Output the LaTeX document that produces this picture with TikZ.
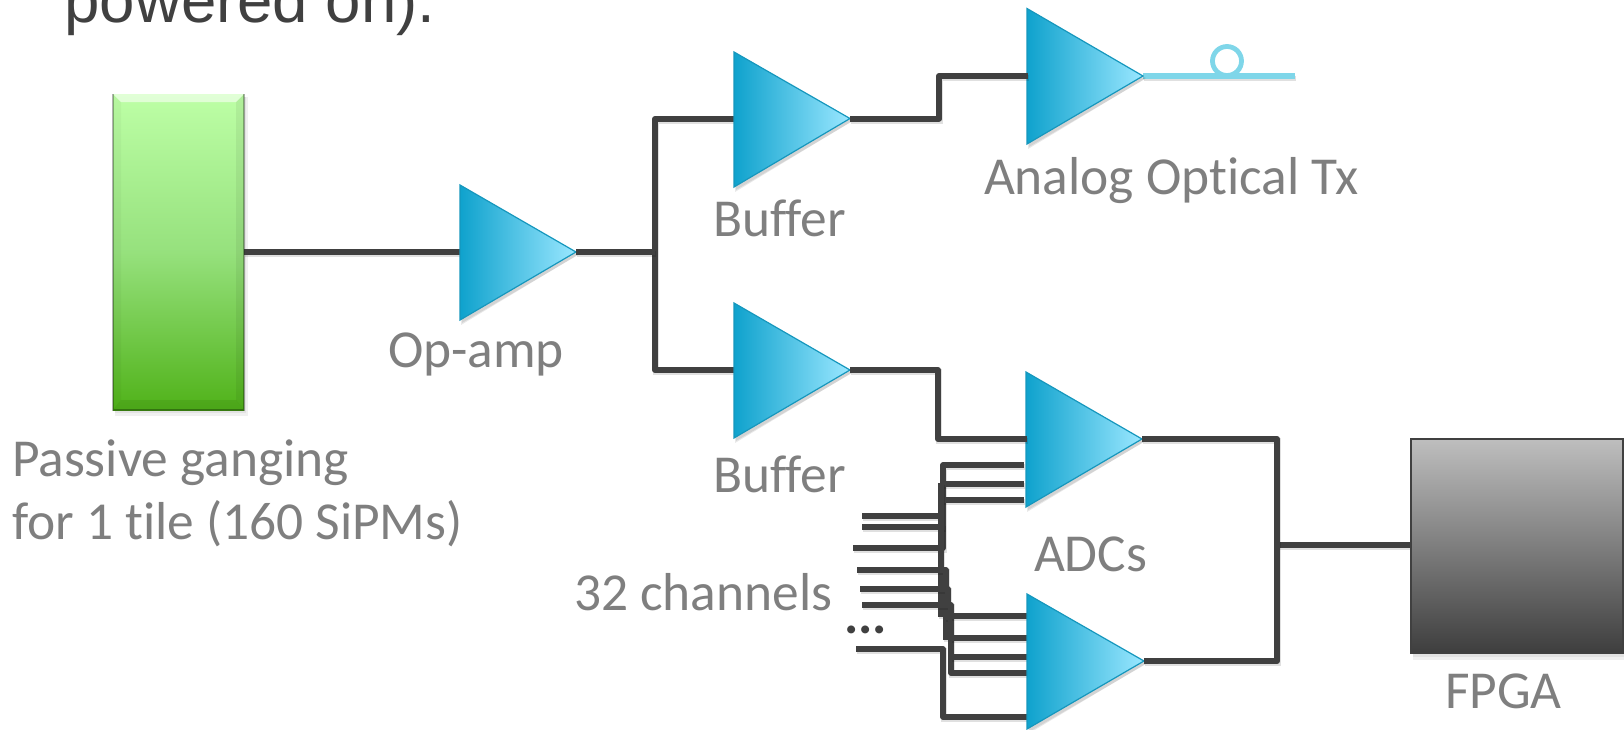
\documentclass[tikz,border=0pt]{standalone}
\usepackage{fontspec}
\setmainfont[Ligatures=NoCommon]{Carlito}
\newfontfamily\headfont{Liberation Sans}
\definecolor{wirec}{HTML}{404040}
\definecolor{labelc}{HTML}{7F7F7F}
\definecolor{ampl}{HTML}{0FA2CD}
\definecolor{ampr}{HTML}{9AE7FF}
\definecolor{ampe}{HTML}{1697BD}
\definecolor{fibre}{HTML}{7FD6E9}
\tikzset{
  wire/.style={draw=wirec,line width=3pt,line join=round,
    preaction={draw=black,opacity=.12,line width=3pt,transform canvas={shift={(.7pt,-1.2pt)}}}},
  finewire/.style={wire,line width=2.7pt},
  fibreline/.style={draw=fibre,line width=2.6pt,
    preaction={draw=black,opacity=.12,line width=2.6pt,transform canvas={shift={(.7pt,-1.1pt)}}}},
  lbl/.style={anchor=base west,inner sep=0pt,outer sep=0pt,text=labelc,font=\fontsize{26.7pt}{30pt}\selectfont},
  ampshape/.style={left color=ampl,right color=ampr,draw=ampe,line width=.6pt,line join=miter},
  ampshadow/.style={fill=black,opacity=.09}
}
% name, left x, top y, bottom y, tip x, tip y
\newcommand{\ampnode}[6]{%
  \fill[ampshadow] (#2+2,#3+3) -- (#5+2,#6+3) -- (#2+2,#4+3) -- cycle;
  \fill[ampshadow] (#2+1,#3+6) -- (#5+3,#6+2) -- (#2+1,#4+5) -- cycle;
  \shadedraw[ampshape] (#2,#3) -- (#5,#6) -- (#2,#4) -- cycle;
  \coordinate (#1tip) at (#5,#6);
}
\begin{document}
\begin{tikzpicture}[x=.5pt,y=-.5pt]
\useasboundingbox (0,0) rectangle (1624,729);
\clip (0,0) rectangle (1624,729);

% named anchor points
\coordinate (opIn) at (460,252);
\coordinate (split) at (655,252);
\coordinate (bufAIn) at (734,119);
\coordinate (bufBIn) at (734,370);
\coordinate (txIn) at (1028,76);
\coordinate (adcAIn) at (1027,439);
\coordinate (busX) at (1277,545);
\coordinate (fibreEnd) at (1295,76);

\coordinate (chA1) at (1024,465);
\coordinate (chA2) at (1024,484);
\coordinate (chA3) at (1024,500);
\coordinate (chB1) at (1028,616);
\coordinate (chB2) at (1028,638);
\coordinate (chB3) at (1028,657);
\coordinate (chB4) at (1028,673);
\coordinate (chB5) at (1028,717);
\coordinate (in1) at (862,516);
\coordinate (in2) at (862,527);
\coordinate (in3) at (853,548);
\coordinate (in4) at (857,570);
\coordinate (in5) at (860,589);
\coordinate (in6) at (862,605);
\coordinate (in7) at (856,649);
\coordinate (tapA) at (941,483);
\coordinate (tapB) at (941,617);
\coordinate (tapC) at (946,570);
\coordinate (tapD) at (946,640);

% rectangles
\node[minimum width=65.5pt,minimum height=158pt,inner sep=0pt,outer sep=0pt,anchor=north west] (tile) at (113,94) {};
\node[minimum width=106pt,minimum height=107pt,inner sep=0pt,outer sep=0pt,anchor=north west] (fpga) at (1411,439) {};

% shadows for rectangles
\fill[black,opacity=.06] (115,97) rectangle (248,416);
\fill[black,opacity=.06] (115,97) rectangle (246,413);
\fill[black,opacity=.06] (1413,442) rectangle (1630,660);
\fill[black,opacity=.06] (1413,442) rectangle (1630,657);

% wires
\draw[wire] (tile.east |- opIn) -- (opIn);
\draw[wire] (bufAIn) -- (split |- bufAIn) -- (split |- bufBIn) -- (bufBIn);
\draw[wire] (busX) -- (fpga.west |- busX);

\draw[finewire] (chA1) -- (943,465) -- (943,548) -- (in3);
\draw[finewire] (chA2) -- (943,484);
\draw[finewire] (chA3) -- (943,500);
\draw[finewire] (in1) -- (943,516);
\draw[finewire] (in2) -- (945,527);
\draw[finewire] (tapA) -- (tapB);
\draw[finewire] (in4) -- (tapC) -- (tapD);
\draw[finewire] (in5) -- (948,589) -- (948,620);
\draw[finewire] (in6) -- (951,605) -- (951,673) -- (chB4);
\draw[finewire] (chB1) -- (951,616);
\draw[finewire] (chB2) -- (951,638);
\draw[finewire] (chB3) -- (951,657);
\draw[finewire] (in7) -- (943,649) -- (943,717) -- (chB5);

\draw[fibreline] (1143,76) -- (fibreEnd);
\draw[fibre,line width=2.4pt] (1227,61) circle (14.5);

% amplifiers
\ampnode{op}{460}{185}{320}{576}{252}
\ampnode{bufA}{734}{52}{187}{850}{118.5}
\ampnode{bufB}{734}{303}{438}{850}{370}
\ampnode{tx}{1027}{8.5}{144}{1143}{76}
\ampnode{adcA}{1026}{372}{507}{1142}{439}
\ampnode{adcB}{1027}{594}{729}{1144}{661}

\draw[wire] (optip) -- (split);
\draw[wire] (bufAtip) -- (939,118.5) -- (939,76) -- (txIn);
\draw[wire] (bufBtip) -- (938,370) -- (938,439) -- (adcAIn);
\draw[wire] (adcAtip) -- (busX |- adcAtip) -- (busX |- adcBtip) -- (adcBtip);

% green tile
\shade[top color={rgb,255:red,189;green,255;blue,166},bottom color={rgb,255:red,80;green,178;blue,25},middle color={rgb,255:red,150;green,225;blue,125}] (113,94) rectangle (244,410);
\fill[white,opacity=.55] (113,94) -- (244,94) -- (236,102) -- (121,102) -- cycle;
\fill[black,opacity=.06] (244,94) -- (244,410) -- (236,400) -- (236,102) -- cycle;
\fill[black,opacity=.03] (113,94) -- (113,410) -- (121,400) -- (121,102) -- cycle;
\fill[black,opacity=.07] (113,410) -- (244,410) -- (236,400) -- (121,400) -- cycle;
\draw[black,opacity=.3,line width=.8pt] (113,94) -- (113,410) -- (244,410) -- (244,94);

% FPGA
\shadedraw[top color={rgb,255:red,190;green,190;blue,190},bottom color={rgb,255:red,62;green,62;blue,62},draw=wirec,line width=.7pt] (1411,439) rectangle (1623,653);

% labels
\node[anchor=base west,inner sep=0pt,text=wirec,font=\headfont\fontsize{31.8pt}{36pt}\selectfont] (head) at (64,22) {powered on).};
\node[lbl] (lblTx) at (984,194) {Analog Optical Tx};
\node[lbl] (lblBufA) at (713,236) {Buffer};
\node[lbl] (lblOp) at (388,367) {Op-amp};
\node[lbl] (lblBufB) at (713,492) {Buffer};
\node[lbl] (lblPassA) at (12,476) {Passive ganging};
\node[lbl] (lblPassB) at (12,539) {for 1 tile (160 SiPMs)};
\node[lbl] (lblCh) at (574,610) {32 channels};
\node[lbl] (lblAdc) at (1034,571) {ADCs};
\node[lbl] (lblFpga) at (1445,708) {FPGA};
\node[lbl,text=wirec,font=\bfseries\fontsize{26.7pt}{30pt}\selectfont] (dots) at (844,633) {...};
\end{tikzpicture}
\end{document}
